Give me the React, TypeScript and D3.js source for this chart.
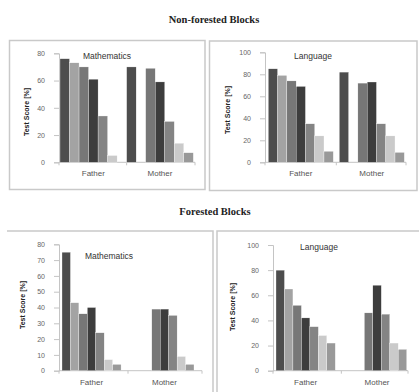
import { useRef, useEffect } from "react";
import * as d3 from "d3";

// categories and series values
const groups = ["Father", "Mother"];
const seriesColors = ["#4d4d4d", "#a3a3a3", "#777777", "#3d3d3d", "#848484", "#cacaca", "#999999"];

const nonForestMathFather = [76, 73, 70, 61, 34, 5, 0];
const nonForestMathMother = [70, 0, 69, 59, 30, 14, 7];
const nonForestLangFather = [85, 79, 74, 69, 35, 24, 10];
const nonForestLangMother = [82, 0, 72, 73, 35, 24, 9];
const forestMathFather = [75, 43, 36, 40, 24, 7, 4];
const forestMathMother = [0, 0, 39, 39, 35, 9, 4];
const forestLangFather = [80, 65, 52, 42, 35, 28, 22];
const forestLangMother = [0, 0, 46, 68, 45, 22, 17];

const mathTicks = [0, 20, 40, 60, 80];
const forestMathTicks = [0, 10, 20, 30, 40, 50, 60, 70, 80];
const langTicks = [0, 20, 40, 60, 80, 100];

export default function App() {
  const svgRef = useRef<SVGSVGElement>(null);

  useEffect(() => {
    const svg = d3.select(svgRef.current);
    svg.selectAll("*").remove();

    // panel borders
    const border = "#c9c9c9";
    svg.append("rect").attr("x", 9.5).attr("y", 40.5).attr("width", 195.5).attr("height", 149)
      .attr("fill", "none").attr("stroke", border).attr("stroke-width", 1.5);
    svg.append("rect").attr("x", 209.5).attr("y", 41).attr("width", 207.5).attr("height", 149.5)
      .attr("fill", "none").attr("stroke", border).attr("stroke-width", 1.5);
    svg.append("path").attr("d", "M7,231H213V392").attr("fill", "none").attr("stroke", border).attr("stroke-width", 1.5);
    svg.append("path").attr("d", "M217,392V231H419").attr("fill", "none").attr("stroke", border).attr("stroke-width", 1.5);

    // section titles
    const titles = [
      { text: "Non-forested Blocks", x: 214, y: 23 },
      { text: "Forested Blocks", x: 215, y: 215 },
    ];
    titles.forEach((t) => {
      svg.append("text").attr("x", t.x).attr("y", t.y).attr("text-anchor", "middle")
        .style("font-family", "Liberation Serif, serif").style("font-weight", "bold")
        .style("font-size", "10.5px").attr("fill", "#222").text(t.text);
    });

    const panels = [
      { title: "Mathematics", father: nonForestMathFather, mother: nonForestMathMother, ticks: mathTicks, max: 80,
        axisX: 59, yTop: 53.3, yBottom: 162.3, bars: [60, 193.3], pad: 0, xEnd: 195, ytitleX: 29, ytitleY: 112, titleX: 107, titleY: 59 },
      { title: "Language", father: nonForestLangFather, mother: nonForestLangMother, ticks: langTicks, max: 100,
        axisX: 265, yTop: 52.3, yBottom: 162.3, bars: [268.3, 404.3], pad: 0.085, xEnd: 406, ytitleX: 230, ytitleY: 110, titleX: 313, titleY: 59 },
      { title: "Mathematics", father: forestMathFather, mother: forestMathMother, ticks: forestMathTicks, max: 80,
        axisX: 59, yTop: 244.3, yBottom: 370.7, bars: [62, 194], pad: 0.19, xEnd: 202, ytitleX: 25, ytitleY: 305, titleX: 109, titleY: 259 },
      { title: "Language", father: forestLangFather, mother: forestLangMother, ticks: langTicks, max: 100,
        axisX: 273, yTop: 245, yBottom: 370.7, bars: [276, 406.7], pad: 0.17, xEnd: 408, ytitleX: 235, ytitleY: 307, titleX: 319, titleY: 250 },
    ];

    panels.forEach((p) => {
      const g = svg.append("g");
      const y = d3.scaleLinear().domain([0, p.max]).range([p.yBottom, p.yTop]);
      const x0 = d3.scaleBand().domain(groups).range(p.bars as [number, number]).paddingInner(p.pad).paddingOuter(0);
      const x1 = d3.scaleBand().domain(d3.range(7).map(String)).range([0, x0.bandwidth()]).padding(0);

      // y axis
      const yAxis = d3.axisLeft(y).tickValues(p.ticks).tickSize(5).tickPadding(9);
      const ya = g.append("g").attr("transform", `translate(${p.axisX},0)`).call(yAxis);
      ya.select(".domain").attr("stroke", "#c4c4c4");
      ya.selectAll("line").attr("stroke", "#c4c4c4");
      ya.selectAll("text").style("font-family", "Liberation Sans, Arial, sans-serif")
        .style("font-size", "7px").attr("fill", "#666");

      // x axis
      const xa = g.append("g").attr("transform", `translate(0,${p.yBottom})`);
      xa.append("line").attr("x1", p.axisX).attr("x2", p.xEnd).attr("stroke", "#c4c4c4");
      const mid = (x0("Father")! + x0.bandwidth() + x0("Mother")!) / 2;
      [p.axisX, mid, p.xEnd].forEach((tx) => {
        xa.append("line").attr("x1", tx).attr("x2", tx).attr("y1", 0).attr("y2", 3).attr("stroke", "#c4c4c4");
      });
      groups.forEach((grp) => {
        xa.append("text").attr("x", x0(grp)! + x0.bandwidth() / 2).attr("y", 14).attr("text-anchor", "middle")
          .style("font-family", "Liberation Sans, Arial, sans-serif").style("font-size", "8px")
          .attr("fill", "#555").text(grp);
      });

      // bars
      const rows = [
        { grp: "Father", vals: p.father },
        { grp: "Mother", vals: p.mother },
      ];
      rows.forEach((r) => {
        g.append("g").attr("transform", `translate(${x0(r.grp)},0)`)
          .selectAll("rect").data(r.vals.map((v, i) => ({ v, i })).filter((d) => d.v > 0))
          .join("rect")
          .attr("x", (d) => x1(String(d.i))!)
          .attr("y", (d) => y(d.v))
          .attr("width", x1.bandwidth())
          .attr("height", (d) => p.yBottom - y(d.v))
          .attr("fill", (d) => seriesColors[d.i])
          .attr("stroke", "#ffffff")
          .attr("stroke-width", 0.3);
      });

      // panel title and y title
      g.append("text").attr("x", p.titleX).attr("y", p.titleY).attr("text-anchor", "middle")
        .style("font-family", "Liberation Sans, Arial, sans-serif").style("font-size", "8.5px")
        .attr("fill", "#333").text(p.title);
      g.append("text").attr("transform", `translate(${p.ytitleX},${p.ytitleY}) rotate(-90)`)
        .attr("text-anchor", "middle")
        .style("font-family", "Liberation Sans, Arial, sans-serif").style("font-size", "7px")
        .style("font-weight", "bold").attr("fill", "#222").text("Test Score [%]");
    });
  }, []);

  return (
    <svg ref={svgRef} width={419} height={392}
      style={{ position: "absolute", left: 0, top: 0, background: "#fff" }}></svg>
  );
}
